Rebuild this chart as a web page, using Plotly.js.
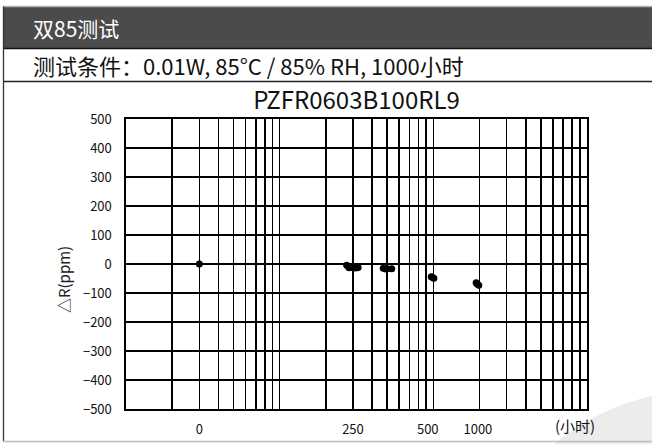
<!DOCTYPE html>
<html>
<head>
<meta charset="utf-8">
<script src="https://cdn.plot.ly/plotly-3.0.1.min.js"></script>
<style>
html,body{margin:0;padding:0;background:#fff;}
#chart{width:652px;height:444px;}
</style>
</head>
<body>
<div id="chart"></div>
<script>
// ---- data ----
const headerText = '双85测试';
const conditionText = '测试条件：0.01W, 85°C / 85% RH, 1000小时';
const chartTitle = 'PZFR0603B100RL9';
const yTitle = '△R(ppm)';
const xUnit = '(小时)';

// log-scale grid (hours axis)
const xGrid = [1,2,3,4,5,6,7,8,9,10,20,30,40,50,60,70,80,90,100,200,300,400,500,600,700,800,900,1000];
const xTickVals = [3, 30, 92, 195];
const xTickText = ['0', '250', '500', '1000'];
const yTickVals = [-500,-400,-300,-200,-100,0,100,200,300,400,500];

// measured points (axis position, ΔR ppm)
const pointX = [3, 27.3, 28.3, 30.1, 31.2, 32.4, 47.2, 49.0, 50.1, 53.6, 96.9, 98.5, 100.8, 190, 193, 197.6];
const pointY = [0, -4, -13, -13, -14, -12, -15, -17, -16, -16, -44, -46, -49, -65, -69, -73];

// ---- layout helpers ----
const W = 652, H = 444;
const M = {l:126, r:65, t:119, b:35};
const PW = W - M.l - M.r, PH = H - M.t - M.b;
const px = x => (x - M.l) / PW;
const py = y => (H - M.b - y) / PH;
const FONT = '"Noto Sans CJK SC", "Noto Sans", sans-serif';

const shapes = [
  {type:'rect', xref:'paper', yref:'paper', x0:px(3), x1:px(653), y0:py(48), y1:py(7),
   fillcolor:'#4b4b4b', line:{width:0}, layer:'below'},
  {type:'line', xref:'paper', yref:'paper', x0:px(3), x1:px(653), y0:py(6.5), y1:py(6.5), line:{color:'#b0b0b0', width:1.5}},
  {type:'line', xref:'paper', yref:'paper', x0:px(3), x1:px(653), y0:py(48.5), y1:py(48.5), line:{color:'#111', width:1.5}},
  {type:'line', xref:'paper', yref:'paper', x0:px(3), x1:px(653), y0:py(81.5), y1:py(81.5), line:{color:'#222', width:1.5}},
  {type:'line', xref:'paper', yref:'paper', x0:px(3.5), x1:px(3.5), y0:py(6.5), y1:py(441), line:{color:'#333', width:1.3}},
  {type:'line', xref:'paper', yref:'paper', x0:px(3), x1:px(653), y0:py(441.5), y1:py(441.5), line:{color:'#bdbdbd', width:1.5}},
  {type:'path', xref:'paper', yref:'paper', layer:'below',
   path:'M '+px(554)+','+py(444)+' Q '+px(598)+','+py(408)+' '+px(652)+','+py(396)+' L '+px(652)+','+py(444)+' Z',
   fillcolor:'#ececec', line:{width:0}}
];

const annotations = [
  {text:headerText, xref:'paper', yref:'paper', x:px(31), y:py(28), xanchor:'left', yanchor:'middle', showarrow:false,
   font:{family:FONT, size:21, color:'#ffffff'}},
  {text:conditionText, xref:'paper', yref:'paper', x:px(31), y:py(65), xanchor:'left', yanchor:'middle', showarrow:false,
   font:{family:FONT, size:22, color:'#111'}},
  {text:yTitle, xref:'paper', yref:'paper', x:px(63), y:py(280), xanchor:'center', yanchor:'middle', showarrow:false,
   textangle:-90, font:{family:FONT, size:15, color:'#222'}},
  {text:xUnit, xref:'paper', yref:'paper', x:px(575), y:py(425), xanchor:'center', yanchor:'middle', showarrow:false,
   font:{family:FONT, size:15, color:'#111'}}
];

const data = [
  {x:pointX, y:pointY, type:'scatter', mode:'markers', xaxis:'x', yaxis:'y',
   marker:{color:'#000', size:7}, hoverinfo:'skip', showlegend:false},
  {x:pointX, y:pointY, type:'scatter', mode:'markers', xaxis:'x2', yaxis:'y',
   marker:{color:'rgba(0,0,0,0)', size:1}, hoverinfo:'skip', showlegend:false}
];

const layout = {
  width:W, height:H, margin:M,
  paper_bgcolor:'#ffffff', plot_bgcolor:'#ffffff',
  font:{family:FONT, color:'#111'},
  showlegend:false,
  title:{text:chartTitle, x:px(356.5), xref:'paper', xanchor:'center', y:1-101/H, yref:'container', yanchor:'middle',
         font:{family:FONT, size:24, color:'#111'}},
  xaxis:{type:'log', range:[0,3], tickmode:'array', tickvals:xGrid, showticklabels:false,
         showgrid:true, gridcolor:'#000', gridwidth:1.6, zeroline:false,
         showline:true, mirror:true, linecolor:'#000', linewidth:1.6, ticks:'', fixedrange:true},
  xaxis2:{type:'log', range:[0,3], overlaying:'x', side:'bottom', anchor:'y', tickmode:'array',
          tickvals:xTickVals, ticktext:xTickText, showgrid:false, zeroline:false, showline:false, ticks:'',
          ticklabelstandoff:11, tickfont:{family:FONT, size:13, color:'#111'}},
  yaxis:{range:[-500,500], tickmode:'array', tickvals:yTickVals, showgrid:true, gridcolor:'#000', gridwidth:1.6,
         zeroline:false, showline:true, mirror:true, linecolor:'#000', linewidth:1.6, ticks:'',
         ticklabelstandoff:10, tickfont:{family:FONT, size:13, color:'#111'}},
  shapes:shapes,
  annotations:annotations
};

Plotly.newPlot('chart', data, layout, {staticPlot:true, displayModeBar:false});
</script>
</body>
</html>
